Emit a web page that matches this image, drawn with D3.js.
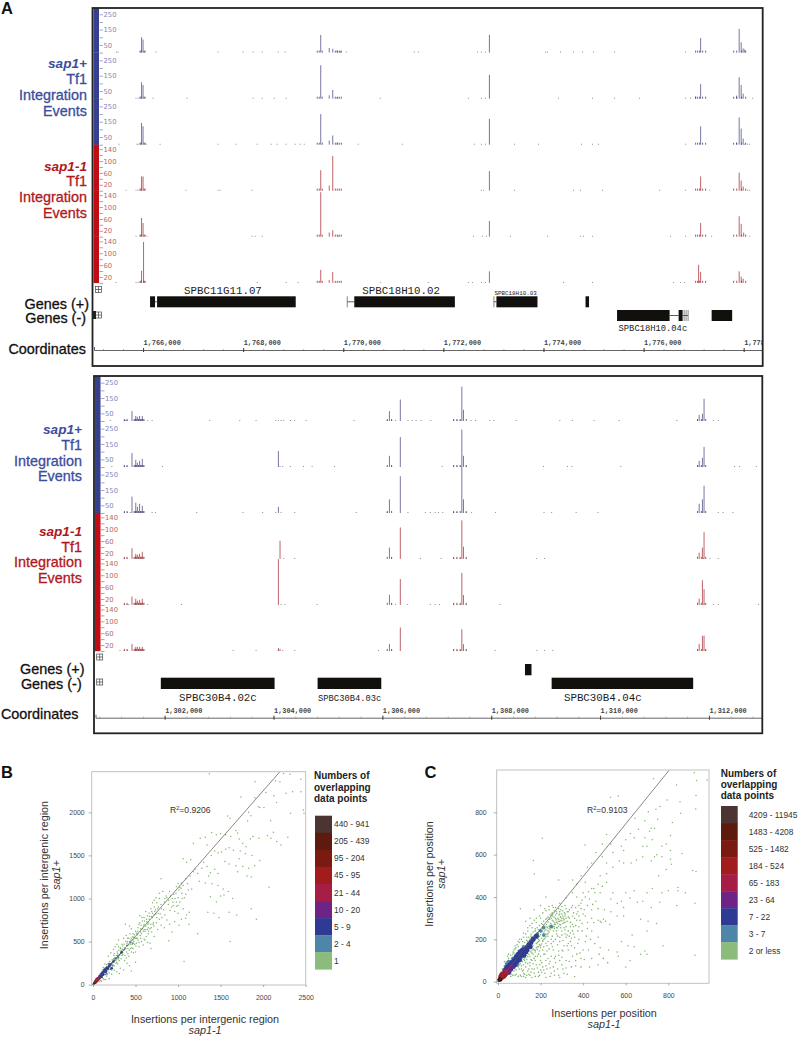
<!DOCTYPE html>
<html><head><meta charset="utf-8">
<script src="https://cdn.jsdelivr.net/npm/d3@7"></script>
<style>
html,body{margin:0;padding:0;background:#fff}
svg{display:block;font-family:"Liberation Sans",Arial,sans-serif}
</style></head><body><svg id="c" width="798" height="1037" font-family="Liberation Sans, Arial, sans-serif"></svg>
<script>
// ---------- Panel A, upper browser view (positions in kb, values in insertions)
const upperDomain=[1765.02,1778.38];
const upperMajor=[1766,1768,1770,1772,1774,1776,1778];
const upperCore=[1765.94,1765.96,1766.02,1766.04,1769.48,1769.52,1769.58,1769.84,1769.88,1769.92,1769.96,1777.04,1777.08,1777.12,1777.18,1777.24,1777.80,1777.86,1777.96,1778.04];
const uPeaks1=[[1765.97,100],[1766.0,85],[1769.55,115],[1769.72,30],[1769.79,25],[1769.88,14],[1769.94,10],[1772.92,115],[1777.14,95],[1777.91,155],[1777.95,67],[1777.99,27],[1778.02,20]];
const uPeaks2=[[1765.97,107],[1766.0,89],[1769.55,218],[1769.72,22],[1769.79,57],[1769.88,10],[1772.92,155],[1777.14,95],[1777.04,14],[1777.91,140],[1777.95,89],[1777.99,33],[1777.86,20]];
const uPeaks3=[[1765.97,142],[1766.0,120],[1769.55,200],[1769.72,27],[1769.79,60],[1769.88,14],[1772.92,169],[1777.14,120],[1777.91,178],[1777.95,105],[1777.99,40],[1777.86,14]];
const uPeaks4=[[1765.97,48],[1766.0,48],[1769.55,69],[1769.72,17],[1769.79,117],[1772.92,66],[1777.14,48],[1777.91,61],[1777.95,34],[1777.99,14]];
const uPeaks5=[[1765.97,63],[1766.0,46],[1769.55,150],[1769.72,14],[1769.79,22],[1772.92,53],[1777.14,46],[1777.91,69],[1777.95,43],[1778.0,14]];
const uPeaks6=[[1765.97,41],[1766.01,138],[1769.55,44],[1769.72,10],[1769.79,37],[1772.92,39],[1777.10,61],[1777.14,37],[1777.91,39],[1777.95,21],[1777.99,14]];
const uDots1=[1765.47,1765.50,1766.26,1767.50,1768.00,1768.20,1768.38,1768.70,1768.84,1770.06,1771.42,1771.50,1772.68,1772.76,1772.84,1774.04,1774.08,1774.34,1774.60,1774.78,1775.00,1775.42,1776.84];
const uDots2=[1765.86,1765.90,1766.20,1766.88,1768.20,1768.38,1768.62,1768.86,1770.74,1772.50,1772.76,1772.84,1774.30,1774.98,1775.42,1775.92,1776.84,1776.94,1778.18];
const uDots3=[1765.52,1765.88,1765.90,1766.06,1766.34,1767.50,1767.86,1768.28,1768.56,1768.68,1768.86,1769.04,1769.14,1769.22,1770.30,1771.18,1772.62,1772.76,1772.84,1773.42,1773.90,1774.76,1774.98,1775.10,1776.84,1778.02,1778.08,1778.12];
const uDots4=[1765.66,1765.86,1765.90,1766.86,1767.50,1767.54,1768.18,1772.76,1772.80,1773.42,1774.60,1774.74,1775.18,1776.32,1776.84,1777.32,1778.08,1778.12];
const uDots5=[1765.86,1766.08,1768.18,1768.24,1768.38,1769.90,1772.60,1772.78,1772.86,1773.34,1774.08,1774.74,1774.80,1774.98,1776.54,1776.84,1777.36,1778.12];
const uDots6=[1765.46,1765.86,1765.90,1768.28,1768.86,1769.10,1770.74,1771.70,1772.50,1772.58,1772.76,1772.84,1774.40,1774.98,1776.60,1776.74,1776.82];
const uGenesPlus=[[1766.14,1766.24],[1766.28,1769.05],[1770.22,1772.23],[1773.06,1773.88],[1774.84,1774.91]];
const uGenesMinus=[[1775.47,1776.52],[1776.70,1776.78],[1777.36,1777.77]];
const uGeneLinks=[[1766.24,1766.28,0],[1770.08,1770.22,0],[1773.01,1773.06,0],[1776.52,1776.70,1],[1776.78,1776.89,1]];
const uGeneCaps=[[1770.08,0],[1773.01,0],[1776.81,1],[1776.85,1],[1776.89,1]];
const uGeneNames=[["SPBC11G11.07",1766.82,10.8,0],["SPBC18H10.02",1770.38,10.8,0],["SPBC18H10.03",1773.02,5.9,0],["SPBC18H10.04c",1775.50,8.8,1]];

// ---------- Panel A, lower browser view
const lowerDomain=[1300.73,1312.98];
const lowerMajor=[1302,1304,1306,1308,1310,1312];
const lowerCore=[1301.26,1301.31,1301.44,1301.46,1301.48,1301.52,1301.56,1301.57,1301.60,1301.62,1306.09,1306.17,1307.31,1307.37,1307.43,1307.54,1311.79,1311.86,1311.94];
const lPeaks1=[[1301.40,64],[1301.47,33],[1301.50,27],[1301.54,33],[1301.59,33],[1306.13,64],[1306.33,140],[1307.46,224],[1307.49,73],[1311.82,40],[1311.88,47],[1311.91,145]];
const lPeaks2=[[1301.40,91],[1301.47,47],[1301.50,27],[1301.54,40],[1301.59,53],[1304.09,104],[1306.13,73],[1306.33,195],[1307.46,244],[1307.49,73],[1311.82,40],[1311.88,60],[1311.91,131]];
const lPeaks3=[[1301.40,107],[1301.47,67],[1301.50,40],[1301.54,60],[1301.59,47],[1304.09,40],[1306.13,89],[1306.33,240],[1307.46,300],[1307.49,89],[1311.82,60],[1311.88,89],[1311.91,178]];
const lPeaks4=[[1301.40,36],[1301.47,17],[1301.50,14],[1301.54,17],[1301.59,24],[1304.12,61],[1306.13,38],[1306.33,106],[1307.46,130],[1307.49,41],[1311.82,21],[1311.88,38],[1311.91,90]];
const lPeaks5=[[1301.40,28],[1301.47,21],[1301.50,14],[1301.54,17],[1301.59,21],[1304.09,154],[1306.13,34],[1306.33,87],[1307.46,108],[1307.49,33],[1311.82,21],[1311.88,83],[1311.91,53]];
const lPeaks6=[[1301.40,24],[1301.47,14],[1301.50,14],[1301.54,14],[1301.59,14],[1304.09,10],[1304.12,7],[1306.13,24],[1306.33,79],[1307.46,73],[1307.49,23],[1311.82,24],[1311.88,51],[1311.91,52]];
const lDots1=[1301.00,1301.26,1301.28,1301.31,1301.69,1301.77,1302.83,1303.38,1303.68,1304.04,1304.09,1304.14,1304.19,1304.31,1304.39,1304.60,1305.48,1306.09,1306.17,1306.24,1306.47,1306.55,1306.62,1306.71,1306.89,1307.31,1307.37,1307.43,1307.63,1307.71,1307.97,1308.05,1308.46,1309.26,1309.49,1309.89,1310.35,1311.41,1311.79,1312.08,1312.17];
const lDots2=[1301.03,1301.26,1301.31,1301.96,1304.12,1304.17,1304.31,1304.55,1304.71,1305.12,1306.17,1307.10,1307.31,1307.37,1307.43,1307.54,1308.96,1309.40,1309.48,1310.38,1311.82,1312.47,1312.56,1312.87];
const lDots3=[1301.26,1301.32,1301.37,1301.77,1301.83,1302.59,1303.44,1303.80,1304.04,1304.14,1304.39,1305.52,1306.09,1306.47,1306.79,1306.88,1306.97,1307.03,1307.11,1307.31,1307.37,1307.54,1307.64,1308.08,1308.97,1309.11,1309.56,1309.96,1312.17,1312.26,1312.44];
const lDots4=[1301.26,1301.31,1304.19,1304.39,1306.17,1306.70,1307.08,1307.31,1307.37,1307.43,1307.54,1308.83,1308.98,1311.90,1312.02,1312.17];
const lDots5=[1301.26,1301.31,1301.34,1301.69,1302.31,1304.14,1304.21,1304.80,1306.17,1306.24,1306.46,1306.88,1306.97,1307.05,1307.31,1307.37,1307.43,1307.54,1308.16,1311.91,1312.08,1312.17,1312.91];
const lDots6=[1301.18,1301.26,1301.32,1303.26,1303.68,1304.09,1304.17,1304.39,1305.93,1306.17,1307.31,1307.37,1307.43,1307.54,1308.07,1308.84,1308.98,1309.13,1311.94];
const lGenesPlus=[[1308.62,1308.74]];
const lGenesMinus=[[1301.93,1304.02],[1304.81,1305.98],[1309.11,1311.71]];
const lGeneNames=[["SPBC30B4.02c",1302.98,10.8,1,"middle"],["SPBC30B4.03c",1305.40,8.8,1,"middle"],["SPBC30B4.04c",1310.05,10.8,1,"middle"]];

const blueTickValues=[0,50,100,150,200,250];
const blueTickLabels=[50,150,250];
const redTickValues=[0,20,40,60,80,100,120,140];
const redTickLabels=[20,60,100,140];
const smallBlue=6, smallRed=3, coreBlue=13, coreRed=7;

// ---------- Panel B
const bLine=[[0,0],[2197,2471]];
const bGreen=[[1367,2448],[2240,2451],[2315,2440],[2444,2382],[1904,2355],[2146,2366],[2197,2355],[1739,2177],[2033,2231],[2127,2192],[2268,2220],[2346,2239],[2444,2239],[1904,2170],[2158,2115],[1943,2065],[1962,2057],[2009,2057],[1829,2000],[1857,1961],[2323,1988],[2472,2026],[2480,1988],[1582,1957],[1610,1930],[1817,1899],[2088,1903],[1394,1767],
[1450,1740],[1500,1750],[1560,1740],[1620,1720],[1680,1790],[1700,1760],[1720,1690],[1760,1640],[1800,1600],[1850,1690],[1880,1720],[1950,1700],[2050,1730],[2120,1770],[2090,1700],[2210,1620],[2290,1710],[2160,1660],[1260,1700],[1320,1710],[1180,1640],[1340,1620],[1430,1550],[1470,1530],[1510,1540],[1390,1500],[1560,1570],[1600,1590],[1650,1560],[1730,1550],[1790,1520],[1870,1500],[1960,1440],[1550,1430],[1600,1400],[1680,1380],[1720,1460],[1760,1370],[1830,1350],[1900,1380],[1810,1260],[1860,1250],[1700,1310],[1470,1290],[1430,1340],[1380,1300],[1360,1260],[1340,1370],[1300,1420],[1200,1340],[1230,1290],[1280,1350],[1150,1450],[1060,1460],[1100,1420],[1180,1310],[1140,1260],[1090,1230],[1040,1180],[1020,1130],[1060,1150],[1110,1170],[1160,1110],[1250,1200],[1320,1180],[1400,1170],[1470,1150],[1530,1110],[1590,1080],[1640,1000],[1500,1030],[1350,840],[1420,830],[1480,780],[1600,840],[1690,810],[1860,880],[1920,760],[2070,1130],[1380,1020],[1450,960],[1540,1040],
[800,1230],[900,1080],[860,1030],[950,1050],[980,1140],[1000,1010],[1050,1000],[1020,960],[980,910],[1060,880],[1100,810],[1130,700],[1230,590],[1610,500],[1070,270],[1000,830],[960,850],[930,1000],[890,980],[840,960],[780,1000],[800,930],[760,880],[720,980],[690,850],[660,830],[640,800],[700,780],[740,820],[780,760],[830,870],[870,750],[900,700],[960,730],[1040,760],[1090,770],[1130,840],[1010,690],[930,610],[890,510],[840,660],[800,690],[760,640],[710,720],[670,650],[630,760],[600,700],[580,650],[560,610],[610,620],[650,590],[690,610],[720,560],[670,480],[680,420],[610,520],[560,540],[530,660],[500,620],[470,590],[450,650],[430,680],[380,700],[420,540],[390,570],[360,540],[340,470],[320,430],[480,500],[510,480],[540,440],[590,460],[640,490],[470,420],[500,380],[450,380],[420,330],[390,310],[350,350],[300,440],[260,440],[240,410],[210,370],[180,330],[290,360],[330,300],[370,280],[400,250],[430,220],[500,260],[450,160],[360,170],[320,190],[290,240],[260,300],[230,260],[200,200],[170,120],[250,170],[220,120],[280,150],[310,130],[190,70],[120,70],[100,40],[150,60],[130,120],[160,190],[140,240],[120,200],[300,520],[280,470],[250,360],[450,540],[520,580],[400,480],[440,470],[370,430],[410,420],[330,400],[350,450],[300,300],[270,250],[240,300],[210,220],[190,250],[530,520],[570,590],[480,550],[510,540],[460,470],[600,780],[550,720],[650,720],[620,850],[680,880],[720,900],[750,950],[820,1080],[780,1060],[740,1010],[700,950],[660,760],[620,680],[580,740],[540,700],[510,600],[470,520],[430,500]];
const bGreenBand=[[870,1010],[910,1030],[940,960],[975,1060],[1010,1100],[1045,1060],[1075,1010],[1035,1120],[1000,1170],[965,1000],[925,900],[885,930],[845,1000],[805,880],[765,830],[725,850],[685,790],[645,700],[605,740],[565,690],[525,620],[485,580],[445,520],[405,500],[365,470],[325,420],[285,380],[245,340],[770,900],[735,870],[700,830],[665,790],[630,730],[595,680],[560,650],[525,590],[490,540],[455,490],[420,460],[385,420],[350,380],[315,350],[280,290],[245,270],[210,245],[175,205],[140,150],[720,810],[680,700],[650,660],[620,640],[590,620],[555,570],[520,540],[490,470],[455,430],[425,400],[395,380],[360,400],[325,360],[295,320],[265,280],[235,230],[205,180],[175,160],[790,820],[750,780],[715,680],[685,660],[655,620],[625,560],[600,530],[570,500],[540,490],[505,450],[475,370],[440,420],[410,360],[375,340],[340,340],[310,280],[280,260],[250,220],[220,170],[190,140],[160,100],[130,60],[110,90],[90,50],[75,35],[60,60],[550,800],[600,640],[575,780],[640,640],[705,700],[745,720],[810,780],[845,810],[905,860],[1000,920],[1090,1050],[1120,1100],[945,920],[980,960],[505,540],[465,555],[435,590],[405,540],[385,500],[345,410],[305,400],[275,340],[225,290],[195,270],[160,230],[130,190],[110,170],[85,130],[70,100],[50,80]];
const bSteel=[[340,380],[310,345],[280,310],[250,285],[220,250],[195,220],[175,195],[155,165],[400,455],[370,410],[470,480],[440,490],[130,170],[180,240],[205,180],[160,130],[110,140],[90,110],[145,120],[230,220],[260,310],[290,335],[300,320],[200,240],[165,200]];
const bBlue=[[205,235],[190,215],[170,195],[155,175],[140,160],[125,145],[115,130],[105,115],[95,105],[85,95],[75,85],[160,195],[135,170],[110,140],[120,115],[100,90],[240,270],[335,375],[220,190],[150,185],[130,155],[100,125],[90,110],[80,100],[175,185],[150,150]];
const bPurple=[[70,85],[62,75],[55,65],[48,58],[75,75],[60,65],[80,85]];
const bCrimson=[[60,75],[52,65],[45,55],[40,45],[35,45],[50,50],[30,35],[70,75],[42,62],[62,62]];
const bRed=[[30,40],[25,30],[20,25],[35,35],[28,22],[40,35]];
const bDark=[[5,5],[10,12],[15,16],[18,20],[8,3]];

// ---------- Panel C
const cLine=[[0,0],[805,1000]];
const cGreen=[[730,958],[839,929],[922,987],[933,950],[982,953],[930,879],[529,871],[565,877],[795,858],[855,850],[742,814],[761,827],[858,795],[929,816],[706,803],[644,772],[690,760],[750,767],[819,752],[208,677],[166,572],[171,509],[285,480],[409,646],
[622,700],[640,680],[660,720],[690,680],[712,710],[720,725],[735,725],[680,640],[700,640],[725,670],[770,640],[810,690],[790,650],[745,600],[810,620],[865,605],[810,580],[770,590],[600,670],[590,620],[580,640],[510,695],[530,650],[490,650],[460,610],[510,560],[490,590],[540,610],[570,570],[540,540],[590,560],[625,560],[650,575],[680,590],[720,570],[735,590],[755,500],[790,530],[815,555],[915,525],[930,520],[845,445],[845,430],[800,430],[770,420],[725,440],[700,420],[680,380],[655,375],[620,395],[600,420],[580,380],[540,420],[510,510],[480,500],[440,560],[420,540],[390,500],[350,480],[370,460],[410,470],[450,440],[480,420],[530,390],[560,370],[590,350],[640,430],[720,350],[760,375],[880,420],[925,370],[840,360],[745,275],[705,285],[670,295],[700,240],[775,170],[925,125],[700,130],[610,170],[640,165],[580,190],[505,285],[480,285],[495,295],[525,270],[530,330],[590,310],[560,310],[630,220],[690,145],[670,130],[565,120],[620,100],[600,70],[560,140],[520,150],[470,80],[480,160],[440,110],[470,210],[440,240],[410,190],[420,280],[400,320],[380,260],[440,340],[500,340],[460,380],[360,210],[350,120],[360,25],[320,65],[330,180],[340,260],[300,150],[290,210],[310,280],[330,330],[350,360],[370,400],[400,420],[430,390],[390,370],[350,420],[320,395],[290,370],[270,350],[250,320],[230,300],[210,270],[190,245],[290,320],[270,300],[255,290],[240,340],[220,345],[200,300],[180,280],[160,255],[140,240],[120,230],[100,200],[80,170],[70,130],[105,345],[130,285],[150,300],[170,340],[200,360],[225,400],[180,220],[150,200],[130,170],[110,140],[140,140],[165,170],[190,190],[215,220],[240,250],[265,260],[290,270],[315,245],[340,230],[370,290],[395,275],[420,250],[450,280],[300,240],[275,225],[250,200],[225,180],[200,160],[175,140],[150,120],[125,100],[100,80],[85,55],[120,55],[150,75],[175,100],[200,120],[230,145],[255,165],[280,175],[305,195],[345,170],[375,180],[400,150],[250,120],[225,100],[195,80],[170,60],[145,35],[110,25],[205,45],[245,65],[270,90],[300,115],[335,95],[365,75],[390,110],[430,70],[290,20],[265,30],[225,20],[190,25],[160,20],[130,20],[300,300],[280,255],[260,240],[235,215],[210,195],[185,165],[160,150],[135,125],[315,310],[335,300],[320,345],[350,310],[375,330],[405,340],[260,350],[245,265],[220,240],[195,215],[170,195],[60,100],[50,90],[40,85],[75,150],[95,165],[115,190],[135,210],[155,225],[175,250],[190,200],[210,240],[230,260],[275,330],[295,340],[120,120],[145,170],[165,130],[185,120],[215,130],[235,110],[260,190],[285,145],[310,170],[325,220],[355,260],[470,290],[485,280]];
const cGreenBand=[[205,235],[210,250],[215,230],[220,262],[225,245],[228,270],[232,255],[236,282],[240,262],[243,295],[247,275],[250,300],[253,268],[256,310],[260,285],[263,305],[266,278],[270,315],[273,292],[276,322],[280,300],[283,285],[286,315],[290,330],[293,305],[296,290],[300,320],[304,335],[308,300],[312,325],[200,222],[196,238],[192,215],[188,230],[184,205],[180,225],[176,200],[172,218],[168,190],[164,212],[160,182],[156,205],[152,175],[148,195],[144,165],[140,190],[260,260],[265,250],[270,270],[275,255],[280,275],[285,262],[290,285],[295,268],[300,288],[305,275],[310,292],[315,280],[320,300],[325,285],[330,305],[240,235],[245,245],[235,228],[230,222],[225,212],[220,205],[215,200],[210,190],[205,178],[200,170],[195,175],[190,165],[185,152],[180,160],[175,148],[170,150],[165,155],[160,135],[155,140],[150,145],[145,130],[140,118],[135,135],[130,115],[125,110],[120,105],[115,95],[110,110],[105,85],[100,95],[95,70],[90,85],[85,75],[80,60],[75,50],[70,65],[65,35],[60,45],
[320,210],[330,150],[340,190],[350,240],[360,160],[370,130],[380,200],[390,70],[300,80],[310,40],[320,100],[280,60],[270,120],[290,100],[260,70],[250,40],[240,85],[230,60],[220,40],[210,70],[200,55],[190,45],[180,80],[170,40],[160,60],[150,30],[140,50],[130,70],[120,40],[110,60],[105,30],[200,100],[210,150],[220,130],[230,170],[240,155],[250,180],[260,150],[270,200],[280,215],[290,190],[300,220],[310,255],[320,260],[330,240],[340,280],[350,270],[360,300],[370,320],[380,310],[390,345],[180,180],[190,130],[170,110],[160,100],[150,90],[140,85],[130,90],[120,80],[110,75],[100,60],
[20,60],[30,75],[40,95],[50,110],[60,125],[70,140],[80,155],[90,175],[100,185],[110,200],[120,210],[130,225],[140,255],[150,265],[160,275],[170,290],[180,300],[195,310],[210,325],[225,335],[240,355],[255,360],[50,130],[30,95],[15,45],[45,120],[75,135],[85,160],[95,190],
[125,185],[135,195],[145,210],[155,215],[165,235],[175,240],[185,255],[195,265],[205,275],[215,285],[225,295],[235,305],[245,315],[255,325],[265,335],[285,345],[300,355],[315,360],[185,185],[195,195],[205,205],[215,215],[225,225],[235,240],[245,255],[255,255],[265,270],[275,280],[285,295],[295,305],[305,310],[315,320],[325,330],[335,340],[345,350],[355,325],[365,350],[380,360],[395,385],[410,400],[425,425],[440,440],[455,420],[470,460],[490,450],[510,470],[420,360],[445,365],[470,345],[440,300],[410,310],[385,290],[365,265],[345,205],[325,170],[305,145],[285,125],[265,110],[245,95],[225,75],[205,90],[185,65],[165,85],[145,60],[125,35],[115,50],[135,105],[155,105],[175,120],[195,145],[215,165],[235,190],[255,215],[275,240],[295,255],[315,225],[335,215],[355,225],[375,240],[395,240],[415,215],[435,200],[455,180],[475,130],[495,110],[515,90],[425,150],[405,105],[385,135],[365,100],[345,70],[325,35],[305,60],[285,30],[265,50],[245,25],[215,55],[195,30],[175,25],[155,45],[135,30],[120,25],[95,25],[85,35],[70,30],[60,25],[55,35],[80,30]];
const cSteel=[[175,215],[165,205],[155,190],[145,180],[135,165],[125,155],[115,140],[105,130],[95,115],[85,100],[75,95],[65,80],[185,225],[200,240],[215,255],[60,95],[70,110],[85,125],[100,145],[120,165],[90,80],[105,100],[125,125],[140,150],[155,165],[60,55],[75,70],[50,80],[45,45],[40,70],[215,220],[250,260],[40,85],[50,95],[110,115],[125,135],[35,70],[30,55]];
const cBlue=[[165,200],[155,185],[145,175],[140,165],[130,155],[125,150],[118,140],[110,130],[103,122],[95,112],[88,105],[82,96],[75,88],[68,80],[62,72],[56,65],[50,60],[45,52],[100,105],[90,95],[80,80],[70,72],[60,60],[75,100],[65,90],[55,80],[45,70],[85,115],[95,130],[105,140],[115,150],[40,45],[35,55],[120,125],[130,140],[180,215],[150,165],[135,150],[50,45],[40,60]];
const cPurple=[[62,80],[56,70],[50,62],[45,55],[40,50],[35,45],[30,42],[52,52],[42,42],[35,35],[30,52],[25,40],[60,65],[65,72]];
const cCrimson=[[40,50],[35,45],[30,38],[25,32],[20,28],[38,38],[32,30],[25,24],[20,36],[15,30]];
const cRed=[[30,35],[26,30],[22,25],[18,22],[14,18],[28,26],[20,20],[12,22]];
const cDark=[[3,3],[6,8],[9,6],[12,12],[2,10],[10,16],[15,13],[6,14],[14,7]];

const legendColors=["#4b3431","#5f1a10","#7b1a11","#a11d1d","#a61d46","#702387","#2f3b92","#4d86a8","#8bbc79"];
const legendB=["440 - 941","205 - 439","95 - 204","45 - 95","21 - 44","10 - 20","5 - 9","2 - 4","1"];
const legendC=["4209 - 11945","1483 - 4208","525 - 1482","184 - 524","65 - 183","23 - 64","7 - 22","3 - 7","2 or less"];
const legendTitle=["Numbers of","overlapping","data points"];
const bXTicks=[0,500,1000,1500,2000,2500], bYTicks=[0,500,1000,1500,2000];
const cXTicks=[0,200,400,600,800], cYTicks=[0,200,400,600,800];

const svg=d3.select("#c");
const BLUE="#3c4d9c",RED="#b01820";
const mono='Liberation Mono, DejaVu Sans Mono, monospace';

function label(lines,x,color){
  lines.forEach(([t,y,it,rx])=>svg.append("text").attr("x",rx||x).attr("y",y+5).attr("text-anchor","end")
    .attr("font-size",it?13.6:14.4).attr("font-style",it?"italic":"normal").attr("font-weight",it?"bold":"normal")
    .attr("fill",color).attr("stroke",color).attr("stroke-width",it?0:0.3).text(t));
}
function plusBox(x,y){
  const g=svg.append("g").attr("transform",`translate(${x},${y})`).attr("stroke","#444").attr("fill","none").attr("stroke-width",.7);
  g.append("rect").attr("x",-3).attr("y",-3).attr("width",6).attr("height",6);
  g.append("path").attr("d","M-3,0H3M0,-3V3");
}
function browser(o){
  const id=o.id;
  svg.append("clipPath").attr("id",id).append("rect").attr("x",o.left).attr("y",o.top).attr("width",o.right-o.left).attr("height",o.bottom-o.top);
  const g=svg.append("g").attr("clip-path",`url(#${id})`);
  const x=d3.scaleLinear().domain(o.domain).range([o.left+1.5,o.right]);
  o.tracks.forEach((t,i)=>{
    const isBlue=i<3, base=o.bases[i];
    const y=d3.scaleLinear().domain([0,isBlue?300:155]).range([base,base-46]);
    const axis=d3.axisRight(y).tickValues(isBlue?blueTickValues:redTickValues).tickSize(3.5).tickPadding(.5)
      .tickFormat(v=>(isBlue?blueTickLabels:redTickLabels).includes(v)?v:"");
    const top=o.bases[i]-46;
    g.append("rect").attr("x",o.left+1).attr("y",top).attr("width",5.5).attr("height",46.2).attr("fill",isBlue?"#36408f":"#c00d14");
    const ax=g.append("g").attr("transform",`translate(${o.left+7},0)`).call(axis);
    ax.select(".domain").remove();
    ax.selectAll("line").attr("stroke",isBlue?"#7d80b4":"#b06a6a").attr("stroke-width",.7);
    ax.selectAll("text").attr("font-family","DejaVu Sans, sans-serif").attr("font-size",6.8).attr("fill",isBlue?"#8285ba":"#b46a6a");
    const small=isBlue?"#3a3c70":"#8c2a30", tall=isBlue?"#5d5f92":"#b2474c";
    const dr=(arr,col,w)=>g.append("g").selectAll("line").data(arr).join("line")
      .attr("x1",d=>x(d[0])).attr("x2",d=>x(d[0])).attr("y1",base).attr("y2",d=>y(d[1]))
      .attr("stroke",col).attr("stroke-width",w);
    dr(t.dots.map(d=>[d,isBlue?smallBlue:smallRed]),"#777",.9);
    dr(t.peaks,tall,.85);
    dr(o.core.map(d=>[d,isBlue?coreBlue:coreRed]),small,.8);
  });
  const gh=o.geneH;
  [[o.plus,o.plusY],[o.minus,o.minusY]].forEach(([arr,yy])=>{
    g.append("g").selectAll("rect").data(arr).join("rect").attr("x",d=>x(d[0])).attr("width",d=>x(d[1])-x(d[0]))
      .attr("y",yy).attr("height",gh).attr("fill","#12100c");
  });
  (o.links||[]).forEach(d=>{const yy=(d[2]?o.minusY:o.plusY)+gh/2;
    g.append("line").attr("x1",x(d[0])).attr("x2",x(d[1])).attr("y1",yy).attr("y2",yy).attr("stroke","#333").attr("stroke-width",.8);});
  (o.caps||[]).forEach(d=>{const yy=d[1]?o.minusY:o.plusY;
    g.append("line").attr("x1",x(d[0])).attr("x2",x(d[0])).attr("y1",yy).attr("y2",yy+gh).attr("stroke","#555").attr("stroke-width",.7);});
  o.names.forEach(n=>{
    const yy=n[3]?o.nameMinusY:o.namePlusY;
    g.append("text").attr("x",x(n[1])).attr("y",(n[2]<7?yy+1:yy)).attr("text-anchor",n[4]||"start")
     .attr("font-family",mono).attr("font-size",n[2]).attr("fill","#222").text(n[0]);
  });
  const maj=d3.axisTop(x).tickValues(o.major).tickSize(3).tickPadding(2).tickFormat(d=>d3.format(",")(d*1000));
  const a=g.append("g").attr("transform",`translate(0,${o.axisY})`).call(maj);
  a.select(".domain").attr("stroke","#555").attr("stroke-width",.9);
  a.selectAll("line").attr("y2",2).attr("y1",-2).attr("stroke","#333");
  a.selectAll("text").attr("font-family",mono).attr("font-size",6.9).attr("text-anchor","start").attr("fill","#444").attr("font-weight","bold");
  const minor=d3.range(Math.ceil(o.domain[0]/0.4)*0.4,o.domain[1],0.4);
  const mi=d3.axisBottom(x).tickValues(minor).tickSize(1.2).tickFormat("");
  const am=g.append("g").attr("transform",`translate(0,${o.axisY-1})`).call(mi);
  am.select(".domain").remove(); am.selectAll("line").attr("stroke","#777").attr("stroke-width",.6);
  svg.append("rect").attr("x",o.left).attr("y",o.top).attr("width",o.right-o.left).attr("height",o.bottom-o.top)
    .attr("fill","none").attr("stroke","#222").attr("stroke-width",1.8);
}
browser({id:"pu",left:92.5,right:762.7,top:8,bottom:366,domain:upperDomain,major:upperMajor,core:upperCore,
  bases:[52.6,98.7,144.7,190.7,236.7,282.9],
  tracks:[[uPeaks1,uDots1],[uPeaks2,uDots2],[uPeaks3,uDots3],[uPeaks4,uDots4],[uPeaks5,uDots5],[uPeaks6,uDots6]].map(d=>({peaks:d[0],dots:d[1]})),
  plus:uGenesPlus,minus:uGenesMinus,links:uGeneLinks,caps:uGeneCaps,names:uGeneNames,plusY:296.3,minusY:310,geneH:11,namePlusY:293.5,nameMinusY:331,axisY:350});
browser({id:"pl",left:94,right:762.3,top:376,bottom:733.3,domain:lowerDomain,major:lowerMajor,core:lowerCore,
  bases:[421,467,513,558.9,604.9,651],
  tracks:[[lPeaks1,lDots1],[lPeaks2,lDots2],[lPeaks3,lDots3],[lPeaks4,lDots4],[lPeaks5,lDots5],[lPeaks6,lDots6]].map(d=>({peaks:d[0],dots:d[1]})),
  plus:lGenesPlus,minus:lGenesMinus,names:lGeneNames,plusY:664,minusY:677.7,geneH:11.3,namePlusY:0,nameMinusY:700.5,axisY:717.7});

label([["sap1+",63,1],["Tf1",79],["Integration",95],["Events",110.5]],87,BLUE);
label([["sap1-1",166,1],["Tf1",181],["Integration",197],["Events",212.5]],87,RED);
label([["Genes (+)",303.5,0,89],["Genes (-)",318],["Coordinates",349]],86,"#111");
label([["sap1+",429.3,1],["Tf1",445],["Integration",460.7],["Events",476]],82,BLUE);
label([["sap1-1",531.3,1],["Tf1",546.7],["Integration",562.3],["Events",578]],82,RED);
label([["Genes (+)",669,0,84.5],["Genes (-)",683.7,0,81.7],["Coordinates",714,0,78.5]],82,"#111");
plusBox(98.5,289.5);plusBox(98.5,315);plusBox(99.7,657);plusBox(99.7,682);
svg.append("rect").attr("x",93).attr("y",311).attr("width",3).attr("height",8).attr("fill","#222");
[["A",1,14],["B",1,778],["C",424.5,778]].forEach(([t,x,y])=>svg.append("text").attr("x",x).attr("y",y).attr("font-size",16.5).attr("font-weight","bold").attr("fill","#111").text(t));

function scatter(s){
  const x=d3.scaleLinear().domain(s.xd).range(s.xr);
  const y=d3.scaleLinear().domain(s.yd).range(s.yr);
  const g=svg.append("g");
  svg.append("clipPath").attr("id",s.id).append("rect").attr("x",s.box[0]).attr("y",s.box[1]).attr("width",s.box[2]-s.box[0]).attr("height",s.box[3]-s.box[1]);
  const pl=g.append("g").attr("clip-path",`url(#${s.id})`);
  s.layers.forEach(([data,col,r])=>pl.append("g").selectAll("circle").data(data).join("circle")
    .attr("cx",d=>x(d[0])).attr("cy",d=>y(d[1])).attr("r",r).attr("fill",col));
  pl.append("path").datum(s.line).attr("d",d3.line().x(d=>x(d[0])).y(d=>y(d[1]))).attr("fill","none").attr("stroke","#555").attr("stroke-width",.7);
  g.append("rect").attr("x",s.box[0]).attr("y",s.box[1]).attr("width",s.box[2]-s.box[0]).attr("height",s.box[3]-s.box[1]).attr("fill","none").attr("stroke","#bbb").attr("stroke-width",.9);
  const style=(a)=>{a.select(".domain").remove();a.selectAll("line").attr("stroke","#777").attr("stroke-width",.6);a.selectAll("text").attr("font-size",6.9).attr("fill","#444");};
  const fmt=d3.format("d");
  style(g.append("g").attr("transform",`translate(0,${s.box[3]})`).call(d3.axisBottom(x).tickValues(s.xt).tickFormat(fmt).tickSize(2).tickPadding(s.xpad)));
  style(g.append("g").attr("transform",`translate(${s.box[0]},0)`).call(d3.axisLeft(y).tickValues(s.yt).tickFormat(fmt).tickSize(3).tickPadding(s.ypad)));
  const t=(txt,tx,ty,it,rot)=>g.append("text").attr("transform",`translate(${tx},${ty})`+(rot?" rotate(-90)":"")).attr("text-anchor","middle").attr("font-size",10.8).attr("font-style",it?"italic":"normal").attr("fill","#333").text(txt);
  t(s.xLabel,s.xl[0],s.xl[1]);t("sap1-1",s.xl[0],s.xl[2],1);
  t(s.yLabel,s.yl[0],s.yl[2],0,1);t("sap1+",s.yl[1],s.yl[2],1,1);
  const r=g.append("text").attr("x",s.r2[0]).attr("y",s.r2[1]).attr("font-size",8.6).attr("fill","#333");
  r.append("tspan").text("R");r.append("tspan").attr("dy",-3).attr("font-size",5.6).text("2");r.append("tspan").attr("dy",3).text("="+s.r2[2]);
  legendTitle.forEach((l,i)=>g.append("text").attr("x",s.lx).attr("y",s.ly[i]).attr("font-size",10).attr("font-weight","bold").attr("fill","#222").text(l));
  const band=d3.scaleBand().domain(s.lg).range(s.sy);
  g.append("g").selectAll("rect").data(s.lg).join("rect").attr("x",s.sx[0]).attr("width",s.sx[1]-s.sx[0]).attr("y",d=>band(d)).attr("height",band.bandwidth()+.3).attr("fill",(d,i)=>legendColors[i]);
  g.append("g").selectAll("text").data(s.lg).join("text").attr("x",s.lt).attr("y",d=>band(d)+band.bandwidth()/2+3).attr("font-size",8.4).attr("fill","#333").text(d=>d);
}
scatter({id:"sb",xd:[0,2500],xr:[93,305.7],yd:[0,2000],yr:[984.7,812.3],box:[91.7,771.7,305.7,985],
 layers:[[bGreen,"#85b870",.75],[bGreenBand,"#85b870",.75],[bSteel,legendColors[7],.9],[bBlue,legendColors[6],1.3],[bPurple,legendColors[5],1.2],[bCrimson,legendColors[4],1.5],[bRed,legendColors[3],1.3],[bDark,"#222",1]],
 line:bLine,xt:bXTicks,yt:bYTicks,xpad:8,ypad:4,xLabel:"Insertions per intergenic region",yLabel:"Insertions per intergenic region",
 xl:[205,1023,1034],yl:[48,60,875],r2:[170,812.5,"0.9206"],lx:314,ly:[779,790.5,801.5],lg:legendB,sx:[315,332],sy:[815.7,969.3],lt:334});
scatter({id:"sc",xd:[0,800],xr:[498,668.3],yd:[0,800],yr:[981.7,812.3],box:[496.7,770,709,983.3],
 layers:[[cGreen,"#85b870",.75],[cGreenBand,"#85b870",.8],[cSteel,legendColors[7],1.8],[cBlue,legendColors[6],2.5],[cPurple,legendColors[5],2.1],[cCrimson,legendColors[4],2.4],[cRed,legendColors[3],2.4],[cDark,"#3a1410",1.2]],
 line:cLine,xt:cXTicks,yt:cYTicks,xpad:8,ypad:7,xLabel:"Insertions per position",yLabel:"Insertions per position",
 xl:[604,1017,1028],yl:[433,445,874],r2:[587,813,"0.9103"],lx:720.7,ly:[776.5,788,799],lg:legendC,sx:[721,737.7],sy:[806,959.3],lt:748.7});
</script></body></html>
